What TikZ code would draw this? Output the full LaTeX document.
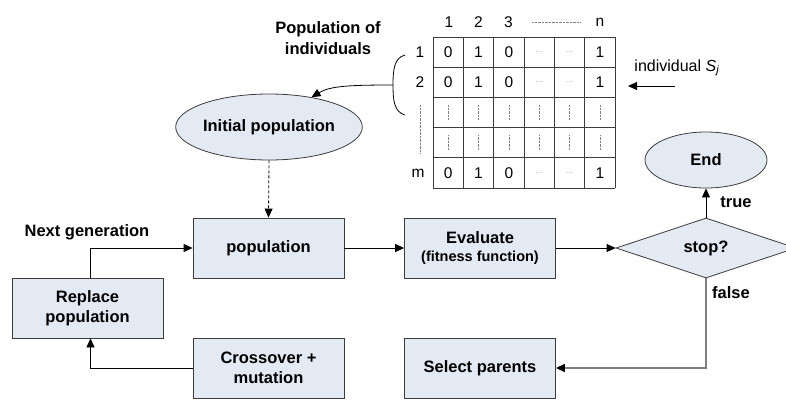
\documentclass[tikz,border=0pt]{standalone}
\usepackage{fontspec}
\setmainfont{Liberation Sans}
\usetikzlibrary{shapes.geometric,arrows.meta}
\definecolor{boxfill}{RGB}{228,234,244}
\definecolor{boxline}{RGB}{60,60,60}
\definecolor{falseline}{RGB}{128,128,128}
\newcommand{\mydotcell}{{\color{gray}\fontsize{7}{7}\selectfont .\kern0.5pt.\kern0.5pt.}}
\begin{document}
\begin{tikzpicture}[x=1pt,y=-1pt,
  bfont/.style={font=\bfseries\fontsize{16.5}{20}\selectfont},
  proc/.style={draw=boxline,fill=boxfill,line width=0.8pt,minimum width=151pt,minimum height=60pt,inner sep=0pt,align=center,bfont},
  oval/.style={ellipse,draw=boxline,fill=boxfill,line width=0.8pt,inner sep=0pt,bfont},
  decide/.style={diamond,draw=boxline,fill=boxfill,line width=0.8pt,inner sep=0pt,minimum width=180pt,minimum height=60pt,bfont},
  arr/.style={-{Triangle[length=9pt,width=8pt,color=black]},line width=0.8pt,draw=black},
  lbl/.style={inner sep=0pt,bfont},
  cell/.style={inner sep=0pt,font=\fontsize{15.5}{18}\selectfont},
  gridln/.style={draw=boxline,line width=0.8pt},
  dotln/.style={draw=gray,line width=0.6pt,dash pattern=on 0.7pt off 0.7pt}]
\useasboundingbox (0,0) rectangle (786,399);

% flow boxes
\node[proc] (pop) at (268.5,248) {population};
\node[proc] (eval) at (480,248) {Evaluate\\[-2pt]{\fontsize{14.5}{17}\selectfont (fitness function)}};
\node[decide] (stop) at (706,248) {stop?};
\node[oval,minimum width=122pt,minimum height=56pt] (endn) at (706,160) {End};
\node[oval,minimum width=176pt,minimum height=66pt] (init) at (269,127) {Initial population};
\node[proc] (repl) at (87.5,308) {Replace\\population};
\node[proc] (cross) at (268.5,368) {Crossover +\\mutation};
\node[proc] (sel) at (480,368) {Select parents};

% labels
\node[lbl] (nextgen) at (87,232) {Next generation};
\node[lbl] (truel) at (736,202) {true};
\node[lbl] (falsel) at (731,293) {false};
\node[lbl,align=center,font=\bfseries\fontsize{16.5}{21}\selectfont] (poplbl) at (328,38) {Population of\\individuals};

% connectors
\draw[arr] ([xshift=3pt]repl.north) |- (pop.west);
\draw[arr] (cross.west) -| ([xshift=3pt]repl.south);
\draw[arr] (pop) -- (eval);
\draw[arr] (eval) -- (stop);
\draw[arr] (stop) -- (endn);
\draw[arr,draw=falseline,line width=1.4pt] (stop.south) |- (sel.east);
\draw[arr,dash pattern=on 3pt off 2pt] (init.south) -- (pop.north);

% table
\foreach \i in {0,...,6} \draw[gridln] ({433+30.33*\i},37) -- ({433+30.33*\i},188);
\foreach \j in {0,...,5} \draw[gridln] (433,{37+30.2*\j}) -- (615,{37+30.2*\j});
\foreach \row/\yy in {1/52.1,2/82.3,m/172.9}{
  \foreach \v [count=\c] in {0,1,0,\mydotcell,\mydotcell,1}
    \node[cell] (c\row\c) at ({433+30.33*(\c-0.5)},\yy) {\v};
}
\foreach \yy in {112.5,142.7}{
  \foreach \c in {1,2,3,4,5,6}
    \draw[dotln] ({433+30.33*(\c-0.5)},{\yy-7.5}) -- ({433+30.33*(\c-0.5)},{\yy+7.5});
}
% headers
\node[cell] (h1) at (449,22) {1};
\node[cell] (h2) at (478.5,22) {2};
\node[cell] (h3) at (508.5,22) {3};
\node[cell] (hn) at (600,22) {n};
\draw[dotln] (532,22) -- (580,22);
\node[cell] (r1) at (420,52) {1};
\node[cell] (r2) at (420,82) {2};
\node[cell] (rm) at (418,172.9) {m};
\draw[dotln] (420,105) -- (420,153);

% brace and arrow to initial population
\coordinate (bracemid) at (393,85);
\draw[line width=0.8pt] (405,55) .. controls (394,58) and (393,70) .. (bracemid) .. controls (393,100) and (394,112) .. (405,115);
\draw[arr] (bracemid) .. controls (350,85) and (330,86) .. (init.35);

% individual label
\node[cell,font=\fontsize{16}{18}\selectfont] (indiv) at (677,68) {individual \textit{S}\textsubscript{\textit{j}}};
\coordinate (indtail) at (675,86);
\coordinate (indtip) at (628,86);
\draw[arr] (indtail) -- (indtip);
\end{tikzpicture}
\end{document}
